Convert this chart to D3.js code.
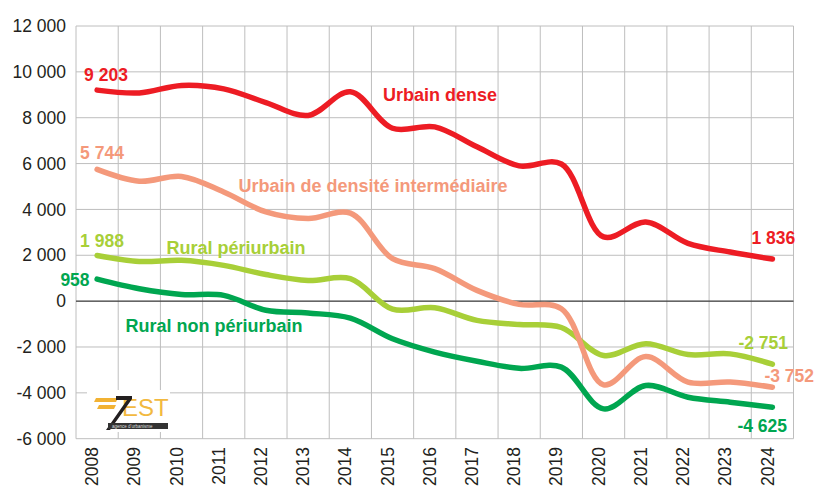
<!DOCTYPE html>
<html>
<head>
<meta charset="utf-8">
<script src="https://cdn.jsdelivr.net/npm/d3@7"></script>
<style>
  body { margin: 0; background: #fff; }
  text { font-family: "Liberation Sans", Arial, sans-serif; }
</style>
</head>
<body>
<script>
var years = [2008, 2009, 2010, 2011, 2012, 2013, 2014, 2015, 2016, 2017, 2018, 2019, 2020, 2021, 2022, 2023, 2024];
var yTicks = [-6000, -4000, -2000, 0, 2000, 4000, 6000, 8000, 10000, 12000];

var urbainDense = [9203, 9080, 9410, 9260, 8660, 8100, 9130, 7540, 7600, 6730, 5900, 5980, 2800, 3450, 2520, 2140, 1836];
var urbainInter = [5744, 5230, 5440, 4760, 3890, 3600, 3840, 1850, 1420, 470, -140, -330, -3650, -2420, -3530, -3530, -3752];
var ruralPeri = [1988, 1730, 1780, 1560, 1160, 900, 980, -350, -290, -840, -1020, -1150, -2370, -1860, -2330, -2300, -2751];
var ruralNonPeri = [958, 540, 290, 250, -400, -520, -740, -1640, -2220, -2620, -2930, -2880, -4700, -3680, -4190, -4410, -4625];

var seriesNames = ['Urbain dense', 'Urbain de densité intermédiaire', 'Rural périurbain', 'Rural non périurbain'];
var seriesColors = ['#ED1C24', '#F4997B', '#A8CF38', '#00A650'];

var width = 818, height = 486;
var plotL = 76, plotR = 793.5, plotT = 26, plotB = 438.7;

var svg = d3.select('body').append('svg')
    .attr('width', width)
    .attr('height', height);

var x = d3.scaleBand().domain(years).range([plotL, plotR]).padding(0);
var y = d3.scaleLinear().domain([-6000, 12000]).range([plotB, plotT]);
function xc(yr) { return x(yr) + x.bandwidth() / 2; }

// grid
svg.selectAll('.hgrid')
    .data(yTicks)
    .enter().append('line')
    .attr('class', 'hgrid')
    .attr('x1', plotL).attr('x2', plotR)
    .attr('y1', function(d) { return y(d); })
    .attr('y2', function(d) { return y(d); })
    .style('stroke', '#BEBEBE')
    .style('stroke-width', 1);

var vlines = years.map(function(d) { return x(d); }).concat([plotR]);
svg.selectAll('.vgrid')
    .data(vlines)
    .enter().append('line')
    .attr('class', 'vgrid')
    .attr('x1', function(d) { return d; })
    .attr('x2', function(d) { return d; })
    .attr('y1', plotT).attr('y2', plotB)
    .style('stroke', '#BEBEBE')
    .style('stroke-width', 1);

// zero line on top of verticals
svg.append('line')
    .attr('x1', plotL).attr('x2', plotR)
    .attr('y1', y(0)).attr('y2', y(0))
    .style('stroke', '#222')
    .style('stroke-width', 1);

// y tick labels
var fmt = function(v) {
    var s = d3.format(',')(Math.abs(v)).replace(/,/g, ' ');
    return (v < 0 ? '-' : '') + s;
};
svg.selectAll('.ylab')
    .data(yTicks)
    .enter().append('text')
    .attr('class', 'ylab')
    .attr('x', 66)
    .attr('y', function(d) { return y(d); })
    .attr('dy', '0.35em')
    .attr('text-anchor', 'end')
    .style('font-size', '17.5px')
    .style('fill', '#231F20')
    .text(fmt);

// x tick labels
svg.selectAll('.xlab')
    .data(years)
    .enter().append('text')
    .attr('class', 'xlab')
    .attr('transform', function(d) { return 'translate(' + (xc(d) - 5) + ',447) rotate(-90)'; })
    .attr('dy', '0.35em')
    .attr('text-anchor', 'end')
    .style('font-size', '17.5px')
    .style('fill', '#231F20')
    .text(function(d) { return d; });

// logo (approximation)
var logo = svg.append('g');
logo.append('rect').attr('x', 87).attr('y', 390).attr('width', 83).attr('height', 42).style('fill', '#fff');
logo.append('path').attr('d', 'M96,398 L118,398 L116,402 L94,402 Z M99,405 L116,405 L114,409 L97,409 Z').style('fill', '#F2B233');
logo.append('text').attr('x', 122).attr('y', 416).style('font-size', '24px').style('fill', '#F2B940').text('EST');
logo.append('path').attr('d', 'M116,396 L132,396 L132,399 L110,430 L106,430 L127,400 L116,400 Z').style('fill', '#231F20');
logo.append('rect').attr('x', 108).attr('y', 423).attr('width', 60).attr('height', 6).style('fill', '#333');
logo.append('text').attr('x', 112).attr('y', 428).style('font-size', '4.5px').style('fill', '#ddd').text("agence d'urbanisme");

// lines
var allSeries = [urbainDense, urbainInter, ruralPeri, ruralNonPeri];
var line = d3.line()
    .x(function(d, i) { return xc(years[i]); })
    .y(function(d) { return y(d); })
    .curve(d3.curveCatmullRom.alpha(0.5));

svg.selectAll('.serie')
    .data(allSeries.slice().reverse())
    .enter().append('path')
    .attr('class', 'serie')
    .attr('d', line)
    .style('fill', 'none')
    .style('stroke', function(d, i) { return seriesColors[3 - i]; })
    .style('stroke-width', 5.5)
    .style('stroke-linecap', 'round');

// series labels
var first = years[0], last = years[years.length - 1];
var nameLabels = [
    { s: 0, x: 383, y: 101 },
    { s: 1, x: 238.5, y: 192 },
    { s: 2, x: 166.5, y: 253.5 },
    { s: 3, x: 125.5, y: 331.5 }
];
svg.selectAll('.name')
    .data(nameLabels)
    .enter().append('text')
    .attr('class', 'name')
    .attr('x', function(d) { return d.x; })
    .attr('y', function(d) { return d.y; })
    .style('font-size', '18px')
    .style('font-weight', 'bold')
    .style('fill', function(d) { return seriesColors[d.s]; })
    .text(function(d) { return seriesNames[d.s]; });

// value labels at start and end
var valueLabels = [
    { s: 0, yr: first, dx: -13, dy: -9, anchor: 'start' },
    { s: 1, yr: first, dx: -17, dy: -10, anchor: 'start' },
    { s: 2, yr: first, dx: -17, dy: -9, anchor: 'start' },
    { s: 3, yr: first, dx: -7.5, dy: 7, anchor: 'end' },
    { s: 0, yr: last, dx: -21, dy: -15, anchor: 'start' },
    { s: 2, yr: last, dx: -34, dy: -15, anchor: 'start' },
    { s: 1, yr: last, dx: -8, dy: -5, anchor: 'start' },
    { s: 3, yr: last, dx: -35, dy: 25, anchor: 'start' }
];
svg.selectAll('.val')
    .data(valueLabels)
    .enter().append('text')
    .attr('class', 'val')
    .attr('x', function(d) { return xc(d.yr) + d.dx; })
    .attr('y', function(d) { return y(allSeries[d.s][years.indexOf(d.yr)]) + d.dy; })
    .attr('text-anchor', function(d) { return d.anchor; })
    .style('font-size', '17.5px')
    .style('font-weight', 'bold')
    .style('fill', function(d) { return seriesColors[d.s]; })
    .text(function(d) { return fmt(allSeries[d.s][years.indexOf(d.yr)]); });
</script>
</body>
</html>
